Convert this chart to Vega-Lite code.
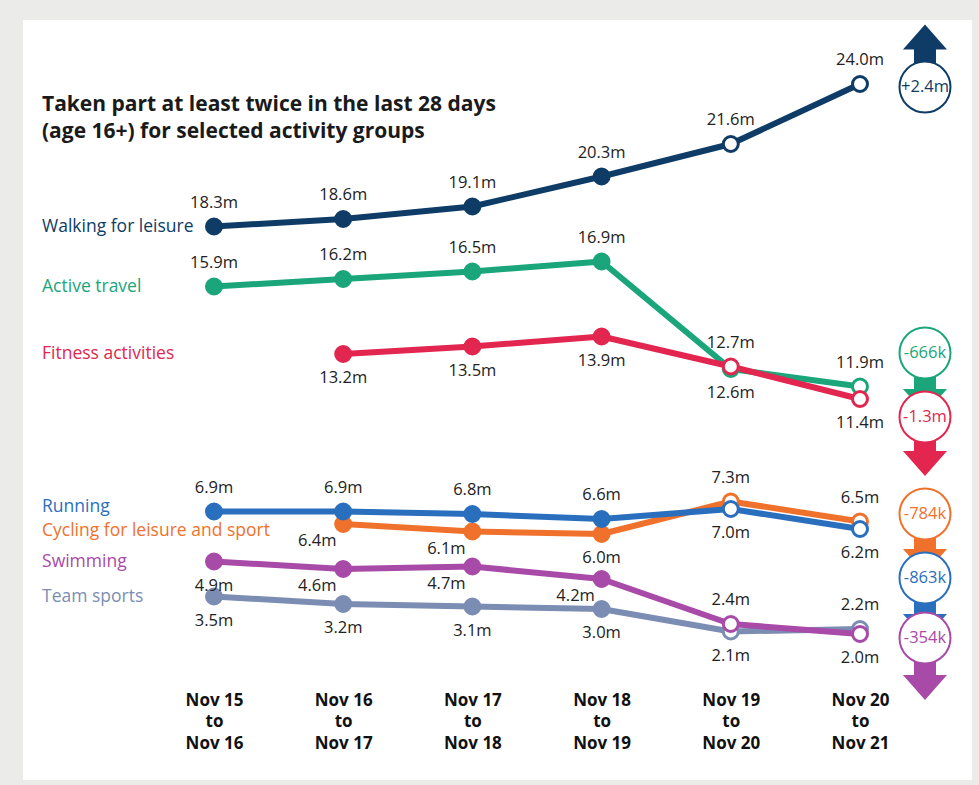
{
  "$schema": "https://vega.github.io/schema/vega-lite/v6.json",
  "autosize": {"type": "none"},
  "padding": {"left": 23, "top": 20, "right": 7, "bottom": 5},
  "width": 949,
  "height": 760,
  "background": "#ebebe9",
  "config": {
    "view": {"fill": "white", "stroke": null},
    "font": "Open Sans",
    "text": {"font": "Open Sans"}
  },
  "title": {
    "text": ["Taken part at least twice in the last 28 days", "(age 16+) for selected activity groups"],
    "anchor": "start",
    "frame": "group",
    "orient": "top",
    "baseline": "top",
    "offset": -122,
    "dx": 19,
    "font": "Open Sans",
    "fontSize": 21,
    "fontWeight": "bold",
    "lineHeight": 27,
    "color": "#1a1a1a"
  },
  "datasets": {
    "series": [
      {"series": "Walking for leisure", "idx": 0, "value": 18.3, "side": "above"},
      {"series": "Walking for leisure", "idx": 1, "value": 18.6, "side": "above"},
      {"series": "Walking for leisure", "idx": 2, "value": 19.1, "side": "above"},
      {"series": "Walking for leisure", "idx": 3, "value": 20.3, "side": "above"},
      {"series": "Walking for leisure", "idx": 4, "value": 21.6, "side": "above"},
      {"series": "Walking for leisure", "idx": 5, "value": 24.0, "side": "above"},
      {"series": "Active travel", "idx": 0, "value": 15.9, "side": "above"},
      {"series": "Active travel", "idx": 1, "value": 16.2, "side": "above"},
      {"series": "Active travel", "idx": 2, "value": 16.5, "side": "above"},
      {"series": "Active travel", "idx": 3, "value": 16.9, "side": "above"},
      {"series": "Active travel", "idx": 4, "value": 12.6, "side": "below"},
      {"series": "Active travel", "idx": 5, "value": 11.9, "side": "above"},
      {"series": "Fitness activities", "idx": 1, "value": 13.2, "side": "below"},
      {"series": "Fitness activities", "idx": 2, "value": 13.5, "side": "below"},
      {"series": "Fitness activities", "idx": 3, "value": 13.9, "side": "below"},
      {"series": "Fitness activities", "idx": 4, "value": 12.7, "side": "above"},
      {"series": "Fitness activities", "idx": 5, "value": 11.4, "side": "below"},
      {"series": "Cycling for leisure and sport", "idx": 1, "value": 6.4, "side": "below-left"},
      {"series": "Cycling for leisure and sport", "idx": 2, "value": 6.1, "side": "below-left"},
      {"series": "Cycling for leisure and sport", "idx": 3, "value": 6.0, "side": "below"},
      {"series": "Cycling for leisure and sport", "idx": 4, "value": 7.3, "side": "above"},
      {"series": "Cycling for leisure and sport", "idx": 5, "value": 6.5, "side": "above"},
      {"series": "Running", "idx": 0, "value": 6.9, "side": "above"},
      {"series": "Running", "idx": 1, "value": 6.9, "side": "above"},
      {"series": "Running", "idx": 2, "value": 6.8, "side": "above"},
      {"series": "Running", "idx": 3, "value": 6.6, "side": "above"},
      {"series": "Running", "idx": 4, "value": 7.0, "side": "below"},
      {"series": "Running", "idx": 5, "value": 6.2, "side": "below"},
      {"series": "Team sports", "idx": 0, "value": 3.5, "side": "below"},
      {"series": "Team sports", "idx": 1, "value": 3.2, "side": "below"},
      {"series": "Team sports", "idx": 2, "value": 3.1, "side": "below"},
      {"series": "Team sports", "idx": 3, "value": 3.0, "side": "below"},
      {"series": "Team sports", "idx": 4, "value": 2.1, "side": "below"},
      {"series": "Team sports", "idx": 5, "value": 2.2, "side": "above"},
      {"series": "Swimming", "idx": 0, "value": 4.9, "side": "below"},
      {"series": "Swimming", "idx": 1, "value": 4.6, "side": "below-left"},
      {"series": "Swimming", "idx": 2, "value": 4.7, "side": "below-left"},
      {"series": "Swimming", "idx": 3, "value": 4.2, "side": "below-left"},
      {"series": "Swimming", "idx": 4, "value": 2.4, "side": "above"},
      {"series": "Swimming", "idx": 5, "value": 2.0, "side": "below"}
    ],
    "badges": [
      {"series": "Walking for leisure", "change": "+2.4m", "direction": "up", "circleAt": 23.88, "arrowAt": 25.5},
      {"series": "Active travel", "change": "-666k", "direction": "down", "circleAt": 13.24, "arrowAt": 11.68},
      {"series": "Fitness activities", "change": "-1.3m", "direction": "down", "circleAt": 10.68, "arrowAt": 9.2},
      {"series": "Cycling for leisure and sport", "change": "-784k", "direction": "down", "circleAt": 6.8, "arrowAt": 5.28},
      {"series": "Running", "change": "-863k", "direction": "down", "circleAt": 4.24, "arrowAt": 2.68},
      {"series": "Swimming", "change": "-354k", "direction": "down", "circleAt": 1.84, "arrowAt": 0.24}
    ]
  },
  "layer": [
    {
      "data": {"name": "series"},
      "mark": {"type": "line", "strokeWidth": 6, "strokeCap": "round", "strokeJoin": "round"},
      "encoding": {
        "x": {
          "field": "idx",
          "type": "quantitative",
          "scale": {"domain": [-1.4783, 5.8669], "nice": false, "zero": false},
          "axis": {
            "values": [0, 1, 2, 3, 4, 5],
            "labelExpr": "split(['Nov 15|to|Nov 16','Nov 16|to|Nov 17','Nov 17|to|Nov 18','Nov 18|to|Nov 19','Nov 19|to|Nov 20','Nov 20|to|Nov 21'][datum.value], '|')",
            "title": null,
            "domain": false,
            "ticks": false,
            "grid": false,
            "offset": -88,
            "labelPadding": 0,
            "labelBaseline": "top",
            "labelFont": "Open Sans",
            "labelFontSize": 17,
            "labelFontWeight": "bold",
            "labelLineHeight": 21.5,
            "labelColor": "#111111",
            "labelFlush": false,
            "labelOverlap": false,
            "labelBound": false
          }
        },
        "y": {
          "field": "value",
          "type": "quantitative",
          "scale": {"domain": [-3.84, 26.56], "nice": false, "zero": false},
          "axis": null
        },
        "color": {
          "field": "series",
          "type": "nominal",
          "scale": {
            "domain": ["Walking for leisure", "Active travel", "Fitness activities", "Cycling for leisure and sport", "Running", "Team sports", "Swimming"],
            "range": ["#0e3c66", "#1aa57a", "#e2264f", "#f0712b", "#2a6fbe", "#7b8db3", "#a84aa8"]
          },
          "legend": null
        },
        "detail": {"field": "series"}
      }
    },
    {
      "data": {"name": "series"},
      "mark": {"type": "point", "shape": "circle", "size": 225, "strokeWidth": 3, "opacity": 1, "filled": true},
      "encoding": {
        "x": {"field": "idx", "type": "quantitative"},
        "y": {"field": "value", "type": "quantitative"},
        "fill": {
          "condition": {"test": "datum.idx >= 4", "value": "white"},
          "field": "series", "type": "nominal", "legend": null,
          "scale": {
            "domain": ["Walking for leisure", "Active travel", "Fitness activities", "Cycling for leisure and sport", "Running", "Team sports", "Swimming"],
            "range": ["#0e3c66", "#1aa57a", "#e2264f", "#f0712b", "#2a6fbe", "#7b8db3", "#a84aa8"]
          }
        },
        "stroke": {
          "field": "series", "type": "nominal", "legend": null,
          "scale": {
            "domain": ["Walking for leisure", "Active travel", "Fitness activities", "Cycling for leisure and sport", "Running", "Team sports", "Swimming"],
            "range": ["#0e3c66", "#1aa57a", "#e2264f", "#f0712b", "#2a6fbe", "#7b8db3", "#a84aa8"]
          }
        }
      }
    },
    {
      "data": {"name": "series"},
      "transform": [
        {"filter": "datum.side == 'above'"},
        {"calculate": "format(datum.value, '.1f') + 'm'", "as": "label"}
      ],
      "mark": {"type": "text", "dy": -24, "fontSize": 16.5, "align": "center", "baseline": "middle", "color": "#222222"},
      "encoding": {
        "x": {"field": "idx", "type": "quantitative"},
        "y": {"field": "value", "type": "quantitative"},
        "text": {"field": "label"}
      }
    },
    {
      "data": {"name": "series"},
      "transform": [
        {"filter": "datum.side == 'below'"},
        {"calculate": "format(datum.value, '.1f') + 'm'", "as": "label"}
      ],
      "mark": {"type": "text", "dy": 24, "fontSize": 16.5, "align": "center", "baseline": "middle", "color": "#222222"},
      "encoding": {
        "x": {"field": "idx", "type": "quantitative"},
        "y": {"field": "value", "type": "quantitative"},
        "text": {"field": "label"}
      }
    },
    {
      "data": {"name": "series"},
      "transform": [
        {"filter": "datum.side == 'below-left'"},
        {"calculate": "format(datum.value, '.1f') + 'm'", "as": "label"}
      ],
      "mark": {"type": "text", "dx": -26, "dy": 17, "fontSize": 16.5, "align": "center", "baseline": "middle", "color": "#222222"},
      "encoding": {
        "x": {"field": "idx", "type": "quantitative"},
        "y": {"field": "value", "type": "quantitative"},
        "text": {"field": "label"}
      }
    },
    {
      "data": {"name": "series"},
      "transform": [
        {"joinaggregate": [{"op": "min", "field": "idx", "as": "firstIdx"}], "groupby": ["series"]},
        {"filter": "datum.idx == datum.firstIdx && datum.series != 'Running' && datum.series != 'Cycling for leisure and sport'"}
      ],
      "mark": {"type": "text", "align": "left", "baseline": "middle", "fontSize": 17.5},
      "encoding": {
        "x": {"datum": -1.331},
        "y": {"field": "value", "type": "quantitative"},
        "text": {"field": "series"},
        "color": {"field": "series", "type": "nominal"}
      }
    },
    {
      "data": {"name": "series"},
      "transform": [
        {"filter": "datum.idx == 0 && datum.series == 'Running'"}
      ],
      "mark": {"type": "text", "align": "left", "baseline": "middle", "fontSize": 17.5, "dy": -5},
      "encoding": {
        "x": {"datum": -1.331},
        "y": {"field": "value", "type": "quantitative"},
        "text": {"field": "series"},
        "color": {"field": "series", "type": "nominal"}
      }
    },
    {
      "data": {"name": "series"},
      "transform": [
        {"filter": "datum.idx == 1 && datum.series == 'Cycling for leisure and sport'"}
      ],
      "mark": {"type": "text", "align": "left", "baseline": "middle", "fontSize": 17.5, "dy": 7},
      "encoding": {
        "x": {"datum": -1.331},
        "y": {"field": "value", "type": "quantitative"},
        "text": {"field": "series"},
        "color": {"field": "series", "type": "nominal"}
      }
    },
    {
      "data": {"name": "badges"},
      "mark": {"type": "point", "filled": true, "size": 1936, "opacity": 1},
      "encoding": {
        "x": {"datum": 5.503},
        "y": {"field": "arrowAt", "type": "quantitative"},
        "color": {"field": "series", "type": "nominal"},
        "shape": {
          "field": "direction", "type": "nominal", "legend": null,
          "scale": {
            "domain": ["up", "down"],
            "range": ["M0,-1 L1,0.14 L0.5,0.14 L0.5,1 L-0.5,1 L-0.5,0.14 L-1,0.14 Z", "M0,1 L1,-0.14 L0.5,-0.14 L0.5,-1 L-0.5,-1 L-0.5,-0.14 L-1,-0.14 Z"]
          }
        }
      }
    },
    {
      "data": {"name": "badges"},
      "mark": {"type": "point", "shape": "circle", "size": 2600, "filled": true, "fill": "white", "strokeWidth": 2, "opacity": 1},
      "encoding": {
        "x": {"datum": 5.503},
        "y": {"field": "circleAt", "type": "quantitative"},
        "stroke": {"field": "series", "type": "nominal"}
      }
    },
    {
      "data": {"name": "badges"},
      "mark": {"type": "text", "fontSize": 16.5, "align": "center", "baseline": "middle"},
      "encoding": {
        "x": {"datum": 5.503},
        "y": {"field": "circleAt", "type": "quantitative"},
        "text": {"field": "change"},
        "color": {"field": "series", "type": "nominal"}
      }
    }
  ]
}
